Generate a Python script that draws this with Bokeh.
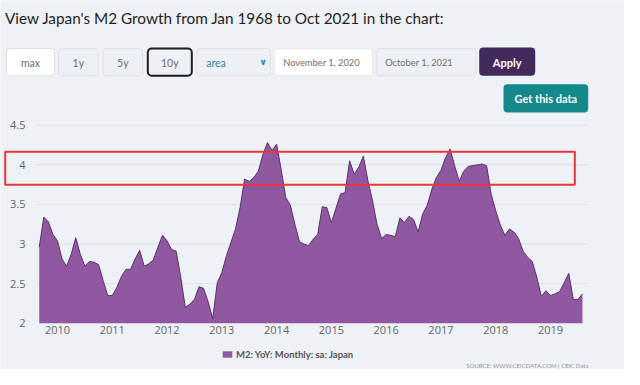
from bokeh.plotting import figure
from bokeh.models import BoxAnnotation, Label, Legend, LegendItem, FixedTicker, Range1d
from bokeh.embed import file_html
from bokeh.resources import INLINE

# ---------------- data ----------------
start_year, start_month = 2009, 9
m2_yoy = [
    2.96, 3.34, 3.28, 3.12,                                                  # 2009 Sep-Dec
    3.04, 2.81, 2.72, 2.87, 3.08, 2.87, 2.72, 2.78, 2.77, 2.74, 2.54, 2.35,  # 2010
    2.35, 2.45, 2.59, 2.68, 2.68, 2.81, 2.92, 2.72, 2.75, 2.80, 2.96, 3.11,  # 2011
    3.04, 2.93, 2.91, 2.58, 2.20, 2.24, 2.30, 2.46, 2.44, 2.27, 2.06, 2.51,  # 2012
    2.64, 2.85, 3.02, 3.19, 3.46, 3.82, 3.79, 3.84, 3.92, 4.13, 4.28, 4.18,  # 2013
    4.26, 3.94, 3.59, 3.49, 3.25, 3.03, 3.00, 2.98, 3.06, 3.12, 3.47, 3.46,  # 2014
    3.27, 3.45, 3.63, 3.65, 4.05, 3.88, 3.97, 4.11, 3.80, 3.55, 3.25, 3.07,  # 2015
    3.12, 3.11, 3.09, 3.33, 3.27, 3.35, 3.31, 3.15, 3.38, 3.49, 3.69, 3.84,  # 2016
    3.93, 4.09, 4.20, 3.99, 3.79, 3.92, 3.98, 3.99, 4.00, 4.01, 3.99, 3.63,  # 2017
    3.42, 3.24, 3.11, 3.19, 3.15, 3.07, 2.91, 2.83, 2.78, 2.58, 2.34, 2.41,  # 2018
    2.35, 2.37, 2.40, 2.51, 2.63, 2.30, 2.30, 2.37,                          # 2019 Jan-Aug
]
x_ticks = [2010, 2011, 2012, 2013, 2014, 2015, 2016, 2017, 2018, 2019]
y_ticks = [2, 2.5, 3, 3.5, 4, 4.5]
y_tick_labels = ["2", "2.5", "3", "3.5", "4", "4.5"]
series_name = "M2: YoY: Monthly: sa: Japan"
title_text = "View Japan's M2 Growth from Jan 1968 to Oct 2021 in the chart:"
buttons = ["max", "1y", "5y", "10y"]
range_type = "area"
date_from, date_to = "November 1, 2020", "October 1, 2021"
source_text = "SOURCE: WWW.CEICDATA.COM | CEIC Data"

dates = [start_year + (start_month - 1 + i) / 12.0 for i in range(len(m2_yoy))]

# ---------------- layout ----------------
W, H = 624, 369
BG = "#eef1f6"
X_LEFT, X_RIGHT = 2009.5984, 2019.6937      # plot area extent (years)
Y_MIN, Y_MAX = 2, 4.5

# the frame covers the whole canvas; axes are drawn at fixed locations inside it
p = figure(width=W, height=H, output_backend="svg", toolbar_location=None, tools="",
           x_range=Range1d(2008.9595, 2020.3509), y_range=Range1d(1.4154, 6.0745),
           min_border=0)
p.background_fill_color = BG
p.border_fill_color = BG
p.outline_line_color = None
p.grid.visible = False

# grid lines at the y ticks
p.segment(x0=X_LEFT, x1=X_RIGHT, y0=y_ticks[1:], y1=y_ticks[1:],
          line_color="#dde1e8", line_width=1, level="underlay")

area = p.varea(x=dates, y1=Y_MIN, y2=m2_yoy, fill_color="#8f58a0")
p.line(x=dates, y=m2_yoy, line_color="#5a326c", line_width=1)

p.xaxis.fixed_location = Y_MIN
p.yaxis.fixed_location = X_LEFT
p.xaxis.ticker = FixedTicker(ticks=x_ticks)
p.yaxis.ticker = FixedTicker(ticks=y_ticks)
p.yaxis.major_label_overrides = {t: l for t, l in zip(y_ticks, y_tick_labels)}
for ax in (p.xaxis, p.yaxis):
    ax.axis_line_color = None
    ax.major_tick_line_color = None
    ax.minor_tick_line_color = None
    ax.major_tick_out = 0
    ax.major_tick_in = 0
    ax.major_label_text_font = "Open Sans"
    ax.major_label_text_font_size = "11px"
    ax.major_label_text_color = "#666666"
p.yaxis.major_label_standoff = 10
p.xaxis.major_label_standoff = 3


def sx(ix):
    return ix - 8


def sy(iy):
    return H - (iy - 8)


def box(l, t, r, b, fill, line=None, lw=1, radius=3):
    p.add_layout(BoxAnnotation(left=sx(l), right=sx(r), top=sy(t), bottom=sy(b),
                               left_units="screen", right_units="screen",
                               top_units="screen", bottom_units="screen",
                               fill_color=fill, fill_alpha=1.0 if fill else 0,
                               line_color=line, line_width=lw, line_alpha=1.0 if line else 0,
                               border_radius=radius, level="annotation"))


def text(ix, iy, s, size="11px", color="#6b6b6b", align="center", font="Lato",
         style="normal", baseline="middle"):
    p.add_layout(Label(x=sx(ix), y=sy(iy), x_units="screen", y_units="screen", text=s,
                       text_font=font, text_font_size=size, text_color=color,
                       text_align=align, text_baseline=baseline, text_font_style=style,
                       level="overlay"))


# title
text(12.5, 25, title_text, size="15.3px", color="#1f1f1f", align="left", baseline="alphabetic")

# range buttons
btn_x = [(14, 62), (66, 105.7), (110.7, 150), (155.3, 199.3)]
btn_fill = ["#ffffff", "#edf0f5", "#edf0f5", "#edf0f5"]
for (l, r), f, s in zip(btn_x, btn_fill, buttons):
    if s == "10y":
        box(l, 56, r, 83.3, f, line="#1e1e1e", lw=2, radius=4)
    else:
        box(l, 56, r, 83.3, f, line="#dde1e7", lw=1, radius=3)
    text((l + r) / 2, 70, s, size="10.5px", color="#6e6e6e")

# chart type select
box(204.3, 56, 277.7, 83.3, "#edf0f5", line="#dde1e7")
text(213.7, 70, range_type, size="10.5px", color="#2d8c8c", align="left")
text(270.7, 69.5, "\u2228", size="9px", color="#2d8c8c", font="DejaVu Sans", style="bold")

# date inputs
box(281.7, 56, 380, 83.3, "#ffffff", line="#e4e7ec")
text(290.7, 70, date_from, size="9.3px", color="#6e6e6e", align="left")
box(384.3, 56, 483.3, 83.3, "#edf0f5", line="#dde1e7")
text(392.7, 70, date_to, size="9.3px", color="#6e6e6e", align="left")

# apply / get data
box(486.7, 55, 542.7, 83.3, "#432a5c", radius=4)
text(514.7, 70, "Apply", size="11px", color="#ffffff", style="bold")
box(511, 91.7, 595.7, 120, "#14898b", radius=4)
text(553.3, 106, "Get this data", size="11px", color="#ffffff", style="bold")

# red highlight rectangle
box(12.7, 159.3, 582.3, 192.3, None, line="#e5383b", lw=2, radius=0)

# legend
legend = Legend(items=[LegendItem(label=series_name, renderers=[area])],
                location=(sx(229), sy(367.5)), orientation="horizontal",
                glyph_width=12, glyph_height=8, label_standoff=3, padding=0, margin=0,
                label_height=10, border_line_color=None, background_fill_alpha=0,
                label_text_font="Lato", label_text_font_size="9.5px",
                label_text_font_style="bold", label_text_color="#555555")
p.add_layout(legend)

# source
text(596, 373.3, source_text, size="6px", color="#999999", align="right")

open("out.html", "w").write(file_html(p, INLINE))
